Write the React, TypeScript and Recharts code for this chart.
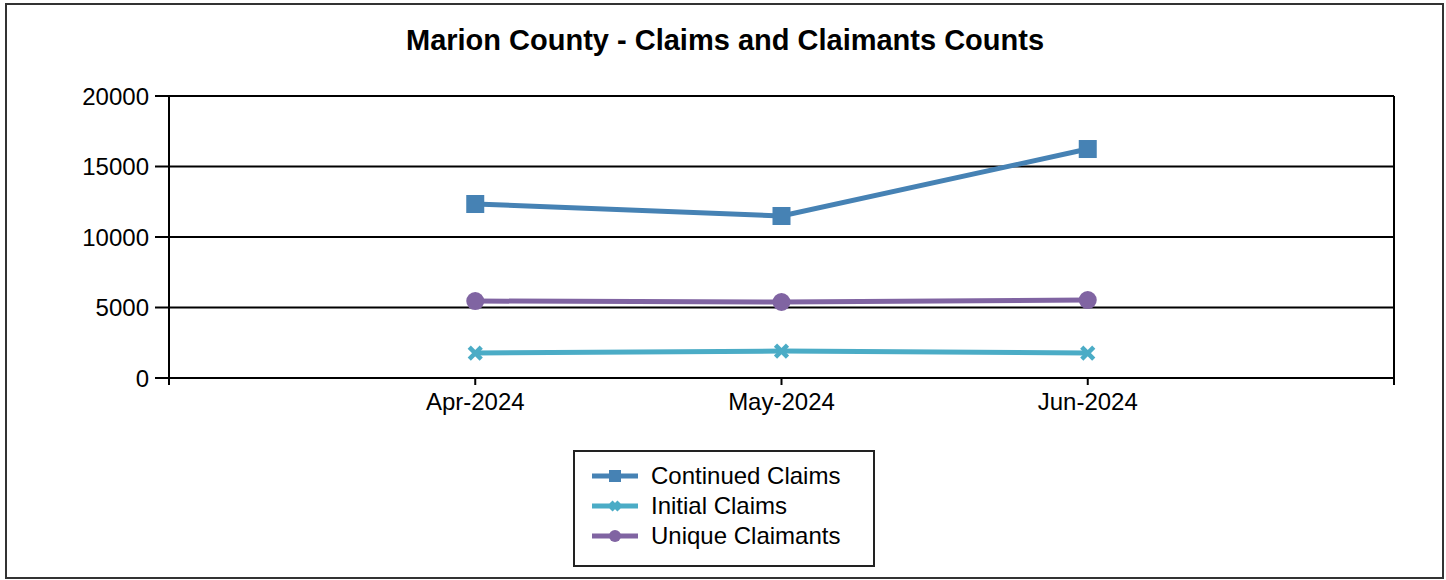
import React from "react";
import {
  LineChart,
  Line,
  XAxis,
  YAxis,
  CartesianGrid,
  ReferenceLine,
} from "recharts";

const months = ["Apr-2024", "May-2024", "Jun-2024"];
const continuedClaims = [12340, 11490, 16240];
const initialClaims = [1770, 1910, 1770];
const uniqueClaimants = [5460, 5390, 5530];
const yTicks = [0, 5000, 10000, 15000, 20000];

const FONT = "'Liberation Sans', Arial, sans-serif";

const series = [
  { key: "continued", name: "Continued Claims", color: "#4682B4", shape: "square" },
  { key: "initial", name: "Initial Claims", color: "#4BACC6", shape: "cross" },
  { key: "unique", name: "Unique Claimants", color: "#8064A2", shape: "circle" },
];

// x positions are 1..3 on a 0..4 domain, leaving a slot of padding each side
const data = months.map((m, i) => ({
  x: i + 1,
  month: m,
  continued: continuedClaims[i],
  initial: initialClaims[i],
  unique: uniqueClaimants[i],
}));

function Marker({ shape, color, cx, cy, size }: any) {
  if (cx == null || cy == null) return null;
  if (shape === "square") {
    return <rect x={cx - size / 2} y={cy - size / 2} width={size} height={size} fill={color} />;
  }
  if (shape === "circle") {
    return <circle cx={cx} cy={cy} r={size / 2} fill={color} />;
  }
  const h = size / 2 - 2;
  return (
    <g stroke={color} strokeWidth={4.5}>
      <line x1={cx - h} y1={cy - h} x2={cx + h} y2={cy + h} />
      <line x1={cx - h} y1={cy + h} x2={cx + h} y2={cy - h} />
    </g>
  );
}

// legend drawn outside the chart so it doesn't eat into the plot area
const LegendBox = () => (
  <div
    style={{
      position: "absolute",
      left: 573,
      top: 450,
      width: 298,
      height: 104,
      paddingTop: 9,
      border: "2px solid #222",
      fontFamily: FONT,
      fontSize: 24,
      background: "#fff",
    }}
  >
    {series.map((s) => (
      <div key={s.key} style={{ display: "flex", alignItems: "center", height: 30 }}>
        <svg width={76} height={30}>
          <line x1={17} y1={15} x2={63} y2={15} stroke={s.color} strokeWidth={5} />
          <Marker shape={s.shape} color={s.color} cx={40} cy={15} size={12} />
        </svg>
        <span style={{ color: "#000" }}>{s.name}</span>
      </div>
    ))}
  </div>
);

export default function App() {
  return (
    <div style={{ position: "absolute", left: 0, top: 0, width: 1446, height: 580, background: "#fff" }}>
      <div
        style={{
          position: "absolute",
          left: 5,
          top: 3,
          width: 1435,
          height: 572,
          border: "2px solid #333",
        }}
      />
      <div
        style={{
          position: "absolute",
          left: 0,
          top: 24,
          width: 1450,
          textAlign: "center",
          fontFamily: FONT,
          fontWeight: "bold",
          fontSize: 29,
          color: "#000",
        }}
      >
        Marion County - Claims and Claimants Counts
      </div>
      <div style={{ position: "absolute", left: 0, top: 0 }}>
        <LineChart
          width={1446}
          height={580}
          data={data}
          margin={{ top: 96, right: 52, left: 109, bottom: 172 }}
        >
          <CartesianGrid horizontal={true} vertical={false} stroke="#000" strokeWidth={2} />
          <ReferenceLine x={4} stroke="#000" strokeWidth={2} />
          <XAxis
            dataKey="x"
            type="number"
            domain={[0, 4]}
            ticks={[0, 1, 2, 3, 4]}
            tickFormatter={(v: number) => months[v - 1] ?? ""}
            stroke="#000"
            strokeWidth={2}
            tickSize={7}
            tickMargin={8}
            height={30}
            tick={{ fill: "#000", fontSize: 24, fontFamily: FONT }}
            interval={0}
          />
          <YAxis
            domain={[0, 20000]}
            ticks={yTicks}
            stroke="#000"
            strokeWidth={2}
            tickSize={14}
            tickMargin={6}
            width={60}
            tick={{ fill: "#000", fontSize: 24, fontFamily: FONT }}
            interval={0}
          />
          {series.map((s) => (
            <Line
              key={s.key}
              dataKey={s.key}
              name={s.name}
              stroke={s.color}
              strokeWidth={5}
              isAnimationActive={false}
              dot={(p: any) => (
                <Marker
                  key={`${s.key}-${p.index}`}
                  shape={s.shape}
                  color={s.color}
                  cx={p.cx}
                  cy={p.cy}
                  size={s.shape === "cross" ? 16 : 18}
                />
              )}
              activeDot={false}
            />
          ))}
        </LineChart>
      </div>
      <LegendBox />
    </div>
  );
}
